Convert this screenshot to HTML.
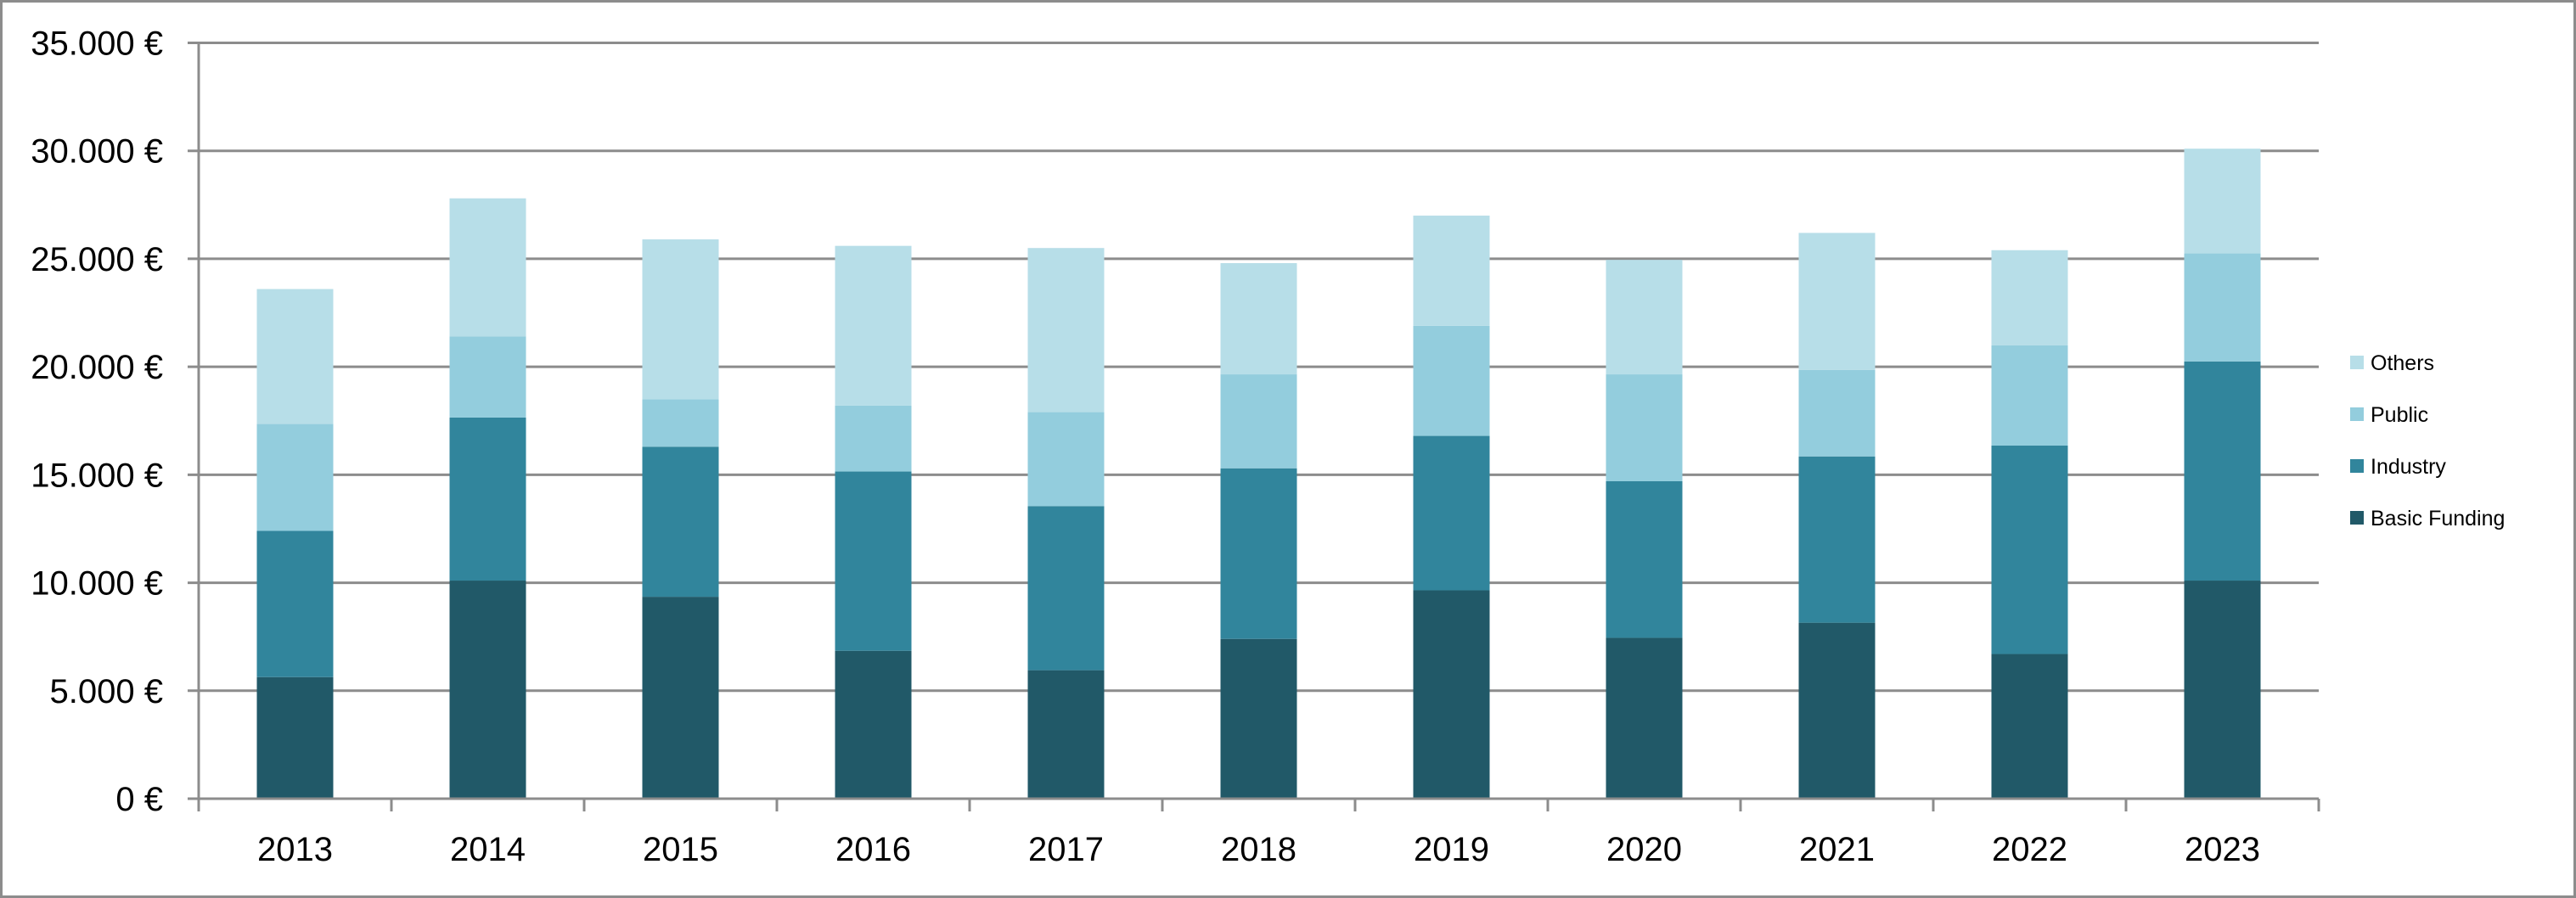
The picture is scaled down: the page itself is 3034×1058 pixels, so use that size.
<!DOCTYPE html>
<html><head><meta charset="utf-8"><style>
html,body{margin:0;padding:0;background:#fff}
svg{display:block}
text{font-family:"Liberation Sans",sans-serif;fill:#000}
</style></head><body>
<svg id="chart" width="3034" height="1058" viewBox="0 0 3034 1058" xmlns="http://www.w3.org/2000/svg">
<rect x="1.5" y="1.5" width="3031" height="1055" fill="#fff" stroke="#8c8c8c" stroke-width="3"/>
<g id="grid"></g><g id="bars"></g><g id="axes"></g><g id="legend"></g>
</svg>
<script>
const categories=["2013","2014","2015","2016","2017","2018","2019","2020","2021","2022","2023"];
const basicFunding=[5630,10100,9350,6850,5950,7400,9650,7450,8150,6700,10100];
const industry=[6770,7550,6950,8300,7600,7900,7150,7250,7700,9650,10150];
const publicFunds=[4950,3750,2200,3050,4350,4350,5100,4950,4000,4650,5000];
const others=[6250,6400,7400,7400,7600,5150,5100,5300,6350,4400,4850];
const yTicks=[0,5000,10000,15000,20000,25000,30000,35000];
const tickLabels=["0 €","5.000 €","10.000 €","15.000 €","20.000 €","25.000 €","30.000 €","35.000 €"];
const seriesNames=["Others","Public","Industry","Basic Funding"];
const NS="http://www.w3.org/2000/svg";
const X0=234,X1=2731,Y0=941,Y1=50.5,YMAX=35000;
const bw=(X1-X0)/categories.length;
const y=v=>Y0-(v/YMAX)*(Y0-Y1);
const xc=i=>X0+bw*(i+0.5);
function mk(tag,attrs,parent){const e=document.createElementNS(NS,tag);for(const k in attrs)e.setAttribute(k,attrs[k]);parent.appendChild(e);return e;}
const grid=document.getElementById('grid'),bars=document.getElementById('bars'),axes=document.getElementById('axes'),legend=document.getElementById('legend');
yTicks.forEach((t,i)=>{
  const l=mk('line',{x1:221,x2:X1,y1:y(t),y2:y(t),stroke:'#8c8c8c','stroke-width':3},grid);
  
  
  const tx=mk('text',{x:192,y:y(t)+14,'text-anchor':'end','font-size':40},axes);
  tx.textContent=tickLabels[i];
  
  
});
const series=[basicFunding,industry,publicFunds,others];
const colors=["#215968","#31859C","#93CDDD","#B7DEE8"];
const keys=["basic","industry","public","others"];
categories.forEach((c,i)=>{
  let acc=0;
  series.forEach((s,k)=>{
    const r=mk('rect',{x:xc(i)-45,width:90,y:y(acc+s[i]),height:y(acc)-y(acc+s[i]),fill:colors[k]},bars);
    
    
    acc+=s[i];
  });
  const tx=mk('text',{x:xc(i),y:1014,'text-anchor':'middle','font-size':40},axes);
  tx.textContent=c;
  
  
});
const ya=mk('line',{x1:X0,x2:X0,y1:Y1,y2:956,stroke:'#8c8c8c','stroke-width':3},axes);


const xa=mk('line',{x1:221,x2:X1,y1:Y0,y2:Y0,stroke:'#8c8c8c','stroke-width':3},axes);


for(let i=0;i<=categories.length;i++){
  const t=mk('line',{x1:X0+bw*i,x2:X0+bw*i,y1:Y0,y2:956,stroke:'#8c8c8c','stroke-width':3},axes);
  
  
}
const legendColors=["#B7DEE8","#93CDDD","#31859C","#215968"];
seriesNames.forEach((n,i)=>{
  const cy=427+i*61;
  const g=mk('g',{},legend);
  
  
  mk('rect',{x:2768,y:cy-8,width:16,height:16,fill:legendColors[i]},g);
  const t=mk('text',{x:2792,y:cy+9,'font-size':25},g);
  t.textContent=n;
});
</script>
</body></html>
